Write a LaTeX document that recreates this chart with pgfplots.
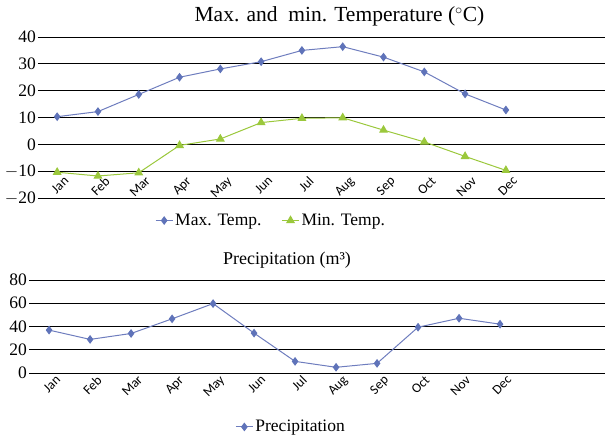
\documentclass[border=0pt]{standalone}
\usepackage{pgfplots}
\pgfplotsset{compat=1.18}
\usepackage{fontspec}
\setmainfont{Liberation Serif}
\newfontfamily\monthfont{Carlito}
\definecolor{maxc}{RGB}{110,125,190}
\definecolor{maxm}{RGB}{95,115,185}
\definecolor{minc}{RGB}{155,200,60}
\begin{document}
\begin{tikzpicture}
\path[use as bounding box] (0pt,0pt) rectangle (605pt,-443pt);
\pgfplotsset{
  common/.style={
    scale only axis,
    axis line style={draw=none},
    major tick length=0pt,
    ymajorgrids,
    grid style={black,line width=0.9pt},
    xtick={0,...,11},
    xticklabels={Jan,Feb,Mar,Apr,May,Jun,Jul,Aug,Sep,Oct,Nov,Dec},
    x tick label style={font=\monthfont\fontsize{13.5}{15}\selectfont, xshift=6pt, rotate=45, anchor=north east, inner sep=1pt},
    y tick label style={font=\fontsize{17.5}{20}\selectfont, inner sep=2pt},
    /pgf/number format/assume math mode=true,
    legend style={draw=none, font=\fontsize{17.5}{20}\selectfont, /tikz/every even column/.append style={column sep=18pt}},
    legend columns=-1,
    clip=false,
  }
}
\begin{axis}[common,
  at={(38pt,-198pt)}, anchor=south west,
  width=567pt, height=161pt,
  xmin=-0.47, xmax=13.43,
  ymin=-20, ymax=40, ytick={-20,-10,...,40},
  yticklabels={$-$20,$-$10,0,10,20,30,40},
  xticklabel shift={-24pt},
  title={Max. and\ \ min. Temperature (${}^{\circ}$C)},
  title style={font=\fontsize{21.5}{24}\selectfont, at={(0.5,1)}, anchor=south, yshift=1pt, xshift=18pt},
  legend style={at={(0.411,-0.14)}, anchor=center},
]
\addplot[maxc, line width=1pt, mark=diamond*, mark size=3.6pt, mark options={fill=maxm, draw=maxm}] coordinates {
(0,10.3) (1,12.2) (2,18.6) (3,25.0) (4,28.1) (5,30.8) (6,35.0) (7,36.4) (8,32.5) (9,27.0) (10,18.8) (11,12.8)};
\addlegendentry{Max. Temp.}
\addplot[minc, line width=1pt, mark=triangle*, mark size=4.2pt, mark options={fill=minc, draw=minc}] coordinates {
(0,-10.4) (1,-11.8) (2,-10.6) (3,-0.4) (4,2.0) (5,8.1) (6,9.7) (7,9.9) (8,5.3) (9,0.9) (10,-4.5) (11,-9.7)};
\addlegendentry{Min. Temp.}
\end{axis}
\begin{axis}[common,
  at={(29pt,-373pt)}, anchor=south west,
  width=576pt, height=93pt,
  xmin=-0.49, xmax=13.56,
  ymin=0, ymax=80, ytick={0,20,...,80},
  title={Precipitation (m³)},
  title style={font=\fontsize{18}{21}\selectfont, at={(0.5,1)}, anchor=south, yshift=2pt, xshift=-30pt},
  legend style={at={(0.455,-0.58)}, anchor=center},
]
\addplot[maxc, line width=1pt, mark=diamond*, mark size=3.6pt, mark options={fill=maxm, draw=maxm}] coordinates {
(0,36.9) (1,28.9) (2,34.0) (3,46.6) (4,59.7) (5,34.3) (6,10.0) (7,4.9) (8,8.3) (9,39.4) (10,47.1) (11,42.0)};
\addlegendentry{Precipitation}
\end{axis}
\end{tikzpicture}
\end{document}
